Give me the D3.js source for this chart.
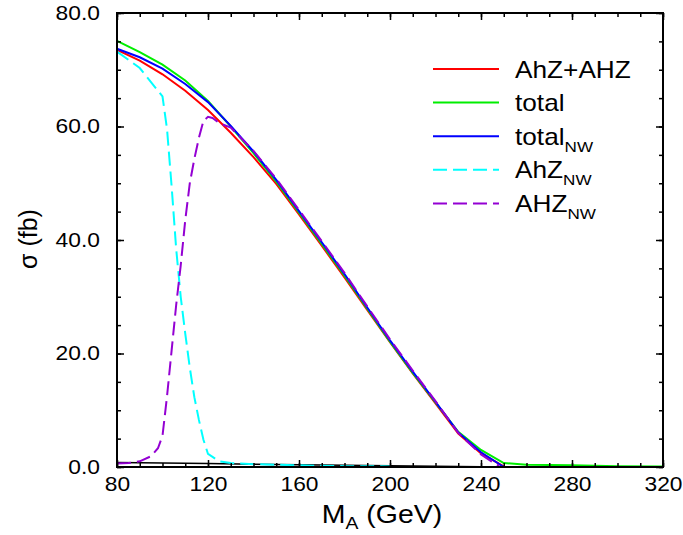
<!DOCTYPE html>
<html>
<head>
<meta charset="utf-8">
<script src="https://cdn.jsdelivr.net/npm/d3@7"></script>
<style>
  body { margin: 0; background: #fff; }
  svg text { font-family: "Liberation Sans", Arial, sans-serif; fill: #000; }
</style>
</head>
<body>
<div id="chart"></div>
<script>
// masses (GeV) and cross sections (fb)
const massMain = [80, 90, 100, 110, 120, 130, 140, 150, 160, 170, 180, 190, 200, 210, 220, 230, 240, 250]
const sigSum = [73.5, 71.6, 69.2, 66.3, 62.9, 58.9, 54.6, 49.9, 44.5, 39.0, 33.4, 27.7, 22.0, 16.5, 11.2, 5.9, 2.4, 0.1]
const sigTotalNW = [73.7, 72.2, 70.2, 67.5, 64.3, 60.1, 55.6, 50.6, 45.1, 39.6, 34.0, 28.1, 22.3, 16.8, 11.5, 6.1, 2.6, 0.0]

const massTotal = [80, 90, 100, 110, 120, 130, 140, 150, 160, 170, 180, 190, 200, 210, 220, 230, 240, 250, 260, 280, 300, 320]
const sigTotal = [75.1, 73.1, 70.9, 68.1, 64.5, 60.0, 55.3, 50.3, 44.8, 39.3, 33.7, 27.9, 22.1, 16.6, 11.4, 6.2, 3.0, 0.7, 0.4, 0.3, 0.15, 0.1]

const massAhZ = [80, 90, 100, 102, 104, 106, 108, 110, 112, 114, 116, 118, 120, 125, 130, 140, 150, 160, 170, 180, 200]
const sigAhZ = [73.2, 70.3, 65.3, 59.5, 49.5, 38.5, 30.0, 23.5, 17.5, 12.3, 8.3, 4.8, 2.3, 1.0, 0.7, 0.5, 0.4, 0.3, 0.2, 0.15, 0.1]

const massAHZ = [80, 85, 90, 95, 98, 100, 102, 104, 106, 108, 110, 112, 114, 116, 118, 120, 122, 125, 130, 140, 150, 160, 170, 180, 190, 200, 210, 220, 230, 240, 245, 248]
const sigAHZ = [0.6, 0.7, 1.0, 1.9, 3.3, 5.5, 12.5, 20.5, 28.5, 35.5, 43.5, 50.0, 54.3, 58.0, 61.0, 61.7, 61.5, 60.6, 59.8, 55.7, 50.8, 45.3, 39.8, 34.2, 28.3, 22.5, 17.0, 11.6, 6.0, 2.2, 0.9, 0.2]

const massOther = [80, 100, 120, 140, 160, 180, 200, 220, 240, 250]
const sigOther = [0.8, 0.72, 0.62, 0.5, 0.4, 0.3, 0.2, 0.12, 0.05, 0.0]

const xTicks = [80, 120, 160, 200, 240, 280, 320]
const yTicks = [0, 20, 40, 60, 80]

const seriesList = [
  { key: "other", mass: massOther, sig: sigOther, color: "#000000", dash: null },
  { key: "sum", mass: massMain, sig: sigSum, color: "#ff0000", dash: null },
  { key: "total", mass: massTotal, sig: sigTotal, color: "#00ee00", dash: null },
  { key: "totalNW", mass: massMain, sig: sigTotalNW, color: "#0000ff", dash: null },
  { key: "AhZNW", mass: massAhZ, sig: sigAhZ, color: "#00ffff", dash: "14,6" },
  { key: "AHZNW", mass: massAHZ, sig: sigAHZ, color: "#9400d3", dash: "14,6" }
]

const legendItems = [
  { main: "AhZ+AHZ", sub: "", color: "#ff0000", dash: null },
  { main: "total", sub: "", color: "#00ee00", dash: null },
  { main: "total", sub: "NW", color: "#0000ff", dash: null },
  { main: "AhZ", sub: "NW", color: "#00ffff", dash: "14,6" },
  { main: "AHZ", sub: "NW", color: "#9400d3", dash: "14,6" }
]

const STRETCH = "scale(1.14,1)"

const MARGIN = { LEFT: 117, RIGHT: 20, TOP: 13, BOTTOM: 68 }
const WIDTH = 683 - MARGIN.LEFT - MARGIN.RIGHT
const HEIGHT = 535 - MARGIN.TOP - MARGIN.BOTTOM

const svg = d3.select("#chart").append("svg")
  .attr("width", 683)
  .attr("height", 535)

const g = svg.append("g")
  .attr("transform", `translate(${MARGIN.LEFT}, ${MARGIN.TOP})`)

const x = d3.scaleLinear().domain([80, 320]).range([0, WIDTH])
const y = d3.scaleLinear().domain([0, 80]).range([HEIGHT, 0])

// curves
const line = d3.line()
  .x(d => x(d[0]))
  .y(d => y(d[1]))

seriesList.forEach(s => {
  const pts = s.mass.map((m, i) => [m, s.sig[i]])
  g.append("path")
    .datum(pts)
    .attr("class", "line " + s.key)
    .attr("d", line)
    .attr("fill", "none")
    .attr("stroke", s.color)
    .attr("stroke-width", s.key === "other" ? 1.5 : 2)
    .attr("stroke-dasharray", s.dash)
})

// axes: major + minor ticks on all four sides, pointing inward
function styleAxis(sel) {
  sel.select(".domain").remove()
  sel.selectAll(".tick line").attr("stroke", "#000").attr("stroke-width", 1.5)
}

g.append("g")
  .attr("transform", `translate(0, ${HEIGHT})`)
  .call(d3.axisBottom(x).tickValues(d3.range(80, 321, 10)).tickSize(-4).tickFormat(""))
  .call(styleAxis)
const xAxis = g.append("g")
  .attr("transform", `translate(0, ${HEIGHT})`)
  .call(d3.axisBottom(x).tickValues(xTicks).tickSizeInner(-7).tickSizeOuter(0).tickPadding(10).tickFormat(d3.format("d")))
  .call(styleAxis)
xAxis.selectAll("text")
  .attr("font-size", "20px")
  .attr("transform", STRETCH)

g.append("g")
  .call(d3.axisTop(x).tickValues(d3.range(80, 321, 10)).tickSize(-4).tickFormat(""))
  .call(styleAxis)
g.append("g")
  .call(d3.axisTop(x).tickValues(xTicks).tickSize(-7).tickFormat(""))
  .call(styleAxis)

g.append("g")
  .call(d3.axisLeft(y).tickValues(d3.range(0, 81, 5)).tickSize(-4).tickFormat(""))
  .call(styleAxis)
const yAxis = g.append("g")
  .call(d3.axisLeft(y).tickValues(yTicks).tickSizeInner(-7).tickSizeOuter(0).tickPadding(15).tickFormat(d3.format(".1f")))
  .call(styleAxis)
yAxis.selectAll("text")
  .attr("font-size", "20px")
  .attr("transform", STRETCH)

g.append("g")
  .attr("transform", `translate(${WIDTH}, 0)`)
  .call(d3.axisRight(y).tickValues(d3.range(0, 81, 5)).tickSize(-4).tickFormat(""))
  .call(styleAxis)
g.append("g")
  .attr("transform", `translate(${WIDTH}, 0)`)
  .call(d3.axisRight(y).tickValues(yTicks).tickSize(-7).tickFormat(""))
  .call(styleAxis)

// frame
g.append("rect")
  .attr("width", WIDTH)
  .attr("height", HEIGHT)
  .attr("fill", "none")
  .attr("stroke", "#000")
  .attr("stroke-width", 2)

// axis labels
const xLabel = svg.append("text")
  .attr("transform", `translate(${MARGIN.LEFT + WIDTH / 2 - 8}, 523) ${STRETCH}`)
  .attr("text-anchor", "middle")
  .attr("font-size", "25px")
xLabel.append("tspan").text("M")
xLabel.append("tspan").attr("font-size", "17px").attr("dy", 6).text("A")
xLabel.append("tspan").attr("dy", -6).text(" (GeV)")

svg.append("text")
  .attr("transform", `translate(37, ${MARGIN.TOP + HEIGHT / 2 - 1}) rotate(-90)`)
  .attr("text-anchor", "middle")
  .attr("font-size", "25px")
  .text("σ (fb)")

// legend
const legend = svg.append("g")
  .attr("transform", "translate(433, 69)")

const legendRow = legend.selectAll(".legendRow")
  .data(legendItems)
  .enter().append("g")
    .attr("class", "legendRow")
    .attr("transform", (d, i) => `translate(0, ${i * 33.6})`)

legendRow.append("line")
  .attr("x1", 0)
  .attr("x2", 66)
  .attr("stroke", d => d.color)
  .attr("stroke-width", 2)
  .attr("stroke-dasharray", d => d.dash)

const legendText = legendRow.append("text")
  .attr("transform", `translate(82, 8.5) ${STRETCH}`)
  .attr("font-size", "23px")
legendText.append("tspan").text(d => d.main)
legendText.append("tspan")
  .attr("font-size", "15px")
  .attr("dy", 7)
  .text(d => d.sub)
</script>
</body>
</html>
